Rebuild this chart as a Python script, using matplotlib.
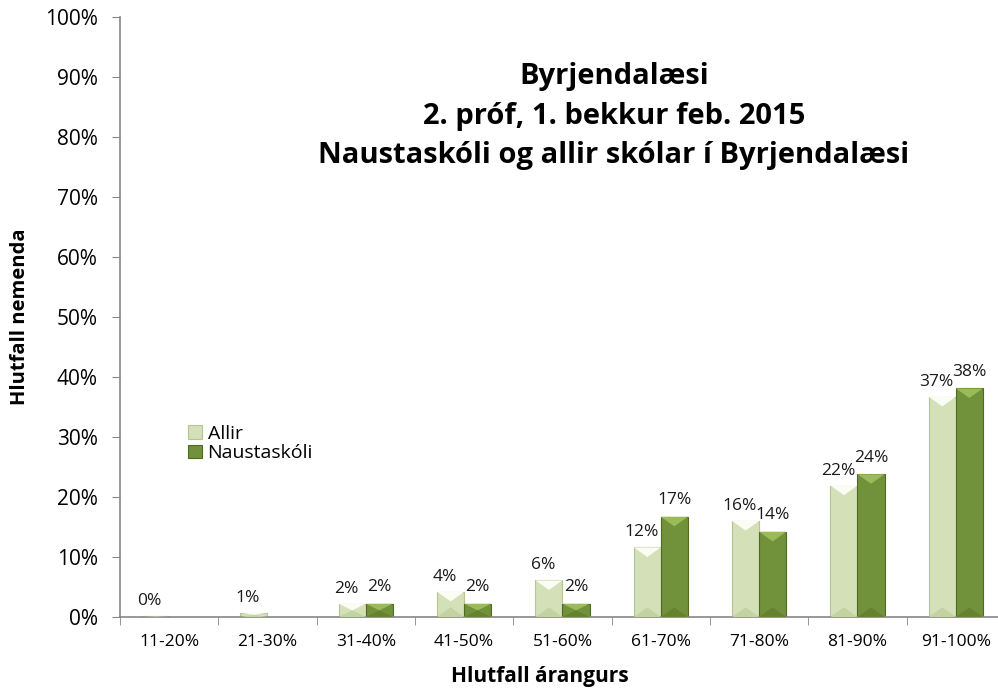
import numpy as np
import matplotlib.pyplot as plt
from matplotlib.patches import Polygon

plt.rcParams['font.family'] = ['Open Sans', 'DejaVu Sans']

categories = ['11-20%', '21-30%', '31-40%', '41-50%', '51-60%',
              '61-70%', '71-80%', '81-90%', '91-100%']
allir = [0.1, 0.7, 2.2, 4.2, 6.1, 11.6, 16.0, 21.9, 36.7]
naust = [np.nan, np.nan, 2.2, 2.2, 2.2, 16.7, 14.2, 23.8, 38.1]
allir_labels = ['0%', '1%', '2%', '4%', '6%', '12%', '16%', '22%', '37%']
naust_labels = ['', '', '2%', '2%', '2%', '17%', '14%', '24%', '38%']

title = "Byrjendalæsi\n2. próf, 1. bekkur feb. 2015\nNaustaskóli og allir skólar í Byrjendalæsi"

fig = plt.figure(figsize=(9.98, 6.92), dpi=100)
ax = fig.add_axes((0.1202, 0.1084, 0.8868, 0.867))

x = np.arange(len(categories))
w = 0.275

light = '#d3e0b8'
light_edge = '#b4c58f'
dark = '#71913a'
dark_edge = '#4f6a22'

b1 = ax.bar(x - w / 2, allir, w, color=light, edgecolor=light_edge,
            linewidth=0.8, label='Allir')
b2 = ax.bar(x + w / 2, naust, w, color=dark, edgecolor=dark_edge,
            linewidth=0.8, label='Naustaskóli')


def bevel(bars, top_col, bot_col):
    # simple bevel look: light V at the top, darker V at the bottom
    for p in bars.patches:
        h = p.get_height()
        if not np.isfinite(h) or h <= 0:
            continue
        x0 = p.get_x()
        x1 = x0 + p.get_width()
        xm = x0 + p.get_width() / 2
        d = min(1.6, h / 2)
        ax.add_patch(Polygon([(x0, h), (x1, h), (xm, h - d)],
                             closed=True, color=top_col, lw=0, zorder=3))
        ax.add_patch(Polygon([(x0, 0), (x1, 0), (xm, d)],
                             closed=True, color=bot_col, lw=0, zorder=3))


bevel(b1, '#fbfdf5', '#c3d2a3')
bevel(b2, '#9bbb59', '#64822f')

for p, lab in zip(b1.patches, allir_labels):
    h = p.get_height()
    ax.annotate(lab, (p.get_x() + p.get_width() / 2 - 0.06, h),
                xytext=(0, 5), textcoords='offset points',
                ha='center', va='bottom', fontsize=12.5, color='#1a1a1a')
for p, lab in zip(b2.patches, naust_labels):
    h = p.get_height()
    if not lab:
        continue
    ax.annotate(lab, (p.get_x() + p.get_width() / 2, h),
                xytext=(0, 6), textcoords='offset points',
                ha='center', va='bottom', fontsize=12.5, color='#1a1a1a')

ax.set_xlim(-0.5, len(categories) - 0.5)
ax.set_ylim(0, 100)
ax.set_yticks(np.arange(0, 101, 10))
ax.set_yticklabels([f'{v}%' for v in range(0, 101, 10)], fontsize=15)
ax.set_xticks(x)
ax.set_xticklabels(categories, fontsize=12.5)
ax.set_xticks(np.arange(-0.5, len(categories), 1), minor=True)
ax.tick_params(axis='x', which='major', length=0, pad=12)
ax.tick_params(axis='x', which='minor', length=6, color='#868686')
ax.tick_params(axis='y', length=6, color='#868686', pad=10)

for s in ['top', 'right']:
    ax.spines[s].set_visible(False)
for s in ['left', 'bottom']:
    ax.spines[s].set_color('#868686')
    ax.spines[s].set_linewidth(1.2)

ax.set_xlabel('Hlutfall árangurs', fontsize=15, fontweight='bold')
ax.xaxis.set_label_coords(0.4746, -0.1, transform=ax.transAxes)
ax.xaxis.label.set_va('center')
ax.set_ylabel('Hlutfall nemenda', fontsize=14.5, fontweight='bold')
ax.yaxis.set_label_coords(-0.113, 0.5, transform=ax.transAxes)
ax.yaxis.label.set_va('center')

fig.text(0.615, 0.91, title, ha='center', va='top', fontsize=21,
         fontweight='bold', linespacing=1.48)

ax.legend(loc='upper left', bbox_to_anchor=(0.066, 0.337), frameon=False,
          fontsize=14, handlelength=0.7, handleheight=0.7,
          handletextpad=0.3, labelspacing=0.1, borderpad=0)

fig.savefig('out.png', dpi=100)
